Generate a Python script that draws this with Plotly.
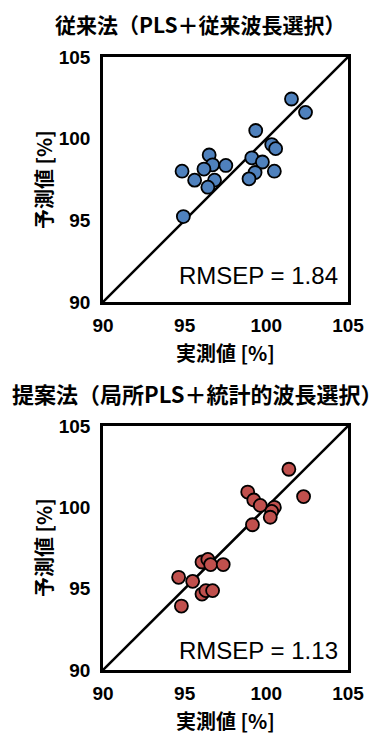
import plotly.graph_objects as go

# ---- data ----
conv_measured = [94.84, 96.50, 96.71, 97.52, 96.18, 95.61, 96.83, 96.42, 94.92,
                 101.54, 102.40, 99.35, 100.33, 100.57, 99.11, 99.76, 100.49, 99.31, 98.94]
conv_predicted = [98.01, 99.00, 98.40, 98.36, 98.14, 97.46, 97.46, 97.03, 95.23,
                  102.43, 101.61, 100.50, 99.64, 99.39, 98.83, 98.57, 98.01, 97.93, 97.54]

prop_measured = [101.38, 102.28, 98.86, 99.23, 99.63, 100.49, 100.33, 100.24, 99.15,
                 96.06, 96.42, 96.59, 97.36, 94.63, 95.49, 96.06, 96.30, 96.71, 94.80]
prop_predicted = [102.34, 100.66, 100.94, 100.45, 100.12, 100.00, 99.75, 99.39, 98.93,
                  96.64, 96.80, 96.48, 96.48, 95.70, 95.45, 94.67, 94.88, 94.88, 93.93]

diag = [90, 105]
ticks = [90, 95, 100, 105]
tick_labels = ["90", "95", "100", "105"]

title_top = "従来法（PLS＋従来波長選択）"
title_bottom = "提案法（局所PLS＋統計的波長選択）"
x_title = "実測値 [%]"
y_title = "予測値 [%]"
rmsep_top = "RMSEP = 1.84"
rmsep_bottom = "RMSEP = 1.13"

W, H = 385, 736
OFF = 8  # page body margin offset

def px_x(p):
    return (p - OFF) / W

def px_y(p):
    return 1 - (p - OFF) / H

box_l, box_r = 103, 348
top_box = (57, 302)
bot_box = (426, 670)

fig = go.Figure()

marker_common = dict(size=13, line=dict(color="black", width=1.8))

fig.add_trace(go.Scatter(x=diag, y=diag, mode="lines", line=dict(color="black", width=2.5),
                         xaxis="x", yaxis="y", hoverinfo="skip"))
fig.add_trace(go.Scatter(x=conv_measured, y=conv_predicted, mode="markers",
                         marker=dict(color="#4F81BD", **marker_common), xaxis="x", yaxis="y"))
fig.add_trace(go.Scatter(x=diag, y=diag, mode="lines", line=dict(color="black", width=2.5),
                         xaxis="x2", yaxis="y2", hoverinfo="skip"))
fig.add_trace(go.Scatter(x=prop_measured, y=prop_predicted, mode="markers",
                         marker=dict(color="#C0504D", **marker_common), xaxis="x2", yaxis="y2"))

tickfont = dict(family="Liberation Sans, Arial, sans-serif", size=19, color="black", weight="bold")
axis_common = dict(range=[90, 105], tickvals=ticks, ticktext=tick_labels, showgrid=False,
                   zeroline=False, showline=True, mirror=True, linecolor="black", linewidth=2.5,
                   ticks="", tickfont=tickfont, automargin=False)

fig.update_layout(
    width=W, height=H, margin=dict(l=0, r=0, t=0, b=0, autoexpand=False),
    paper_bgcolor="white", plot_bgcolor="white", showlegend=False,
    xaxis=dict(domain=[px_x(box_l), px_x(box_r)], anchor="y", ticklabelstandoff=4, **axis_common),
    yaxis=dict(domain=[px_y(top_box[1]), px_y(top_box[0])], anchor="x", ticklabelstandoff=6, **axis_common),
    xaxis2=dict(domain=[px_x(box_l), px_x(box_r)], anchor="y2", ticklabelstandoff=4, **axis_common),
    yaxis2=dict(domain=[px_y(bot_box[1]), px_y(bot_box[0])], anchor="x2", ticklabelstandoff=6, **axis_common),
)

cjk = "Noto Sans CJK JP, sans-serif"
annots = []

def ann(text, x, y, size, family=cjk, weight="bold", angle=0):
    return dict(text=text, x=px_x(x), y=px_y(y), xref="paper", yref="paper",
                xanchor="center", yanchor="middle", textangle=angle, showarrow=False,
                font=dict(family=family, size=size, color="black", weight=weight))

annots.append(ann(title_top, 201, 24, 21))
annots.append(ann(title_bottom, 197, 393, 22))
for (yc_xt, yc_yt) in [(352, 180), (720, 548)]:
    annots.append(ann(x_title, 225, yc_xt, 20))
    annots.append(ann(y_title, 43, yc_yt, 20, angle=-90))
annots.append(dict(text=rmsep_top, x=104.5, y=91.6, xref="x", yref="y", xanchor="right",
                   yanchor="middle", showarrow=False,
                   font=dict(family="Liberation Sans, Arial", size=24, color="black")))
annots.append(dict(text=rmsep_bottom, x=104.5, y=91.2, xref="x2", yref="y2", xanchor="right",
                   yanchor="middle", showarrow=False,
                   font=dict(family="Liberation Sans, Arial", size=24, color="black")))
fig.update_layout(annotations=annots)

fig.write_html("out.html")
